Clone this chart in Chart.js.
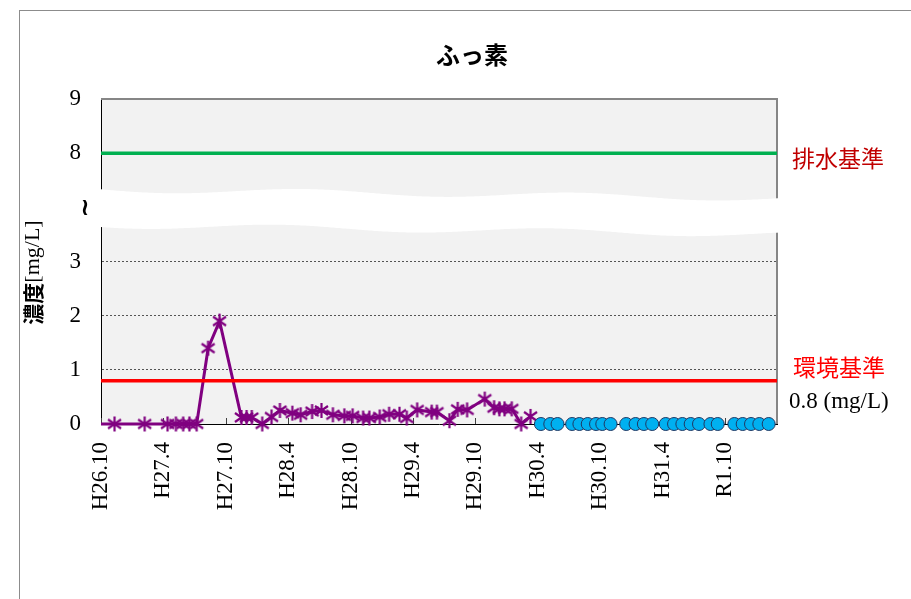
<!DOCTYPE html>
<html lang="ja">
<head>
<meta charset="utf-8">
<title>ふっ素</title>
<script src="https://cdn.jsdelivr.net/npm/chart.js@4.4.1/dist/chart.umd.min.js"></script>
<style>
	html, body { margin: 0; padding: 0; background: #fff; }
	#wrap { position: relative; width: 911px; height: 599px; overflow: hidden; }
	#frame { position: absolute; left: 19px; top: 10px; width: 1000px; height: 700px; border: 1px solid #8c8c8c; pointer-events: none; }
	canvas { display: block; }
</style>
</head>
<body>
<div id="wrap">
	<canvas id="chart" width="911" height="599"></canvas>
	<div id="frame"></div>
</div>
<script>
const chartTitle = 'ふっ素';
const yTitleMain = '濃度';
const yTitleUnit = '[mg/L]';

// x axis: months counted from H26.10
const xTickLabels = [ 'H26.10', 'H27.4', 'H27.10', 'H28.4', 'H28.10', 'H29.4', 'H29.10', 'H30.4', 'H30.10', 'H31.4', 'R1.10' ];
const xTickMonths = [ 0, 6, 12, 18, 24, 30, 36, 42, 48, 54, 60 ];
const xMaxMonth = 65;

// y axis is cut between 4 and 7
const yTickValues = [ 0, 1, 2, 3, 8, 9 ];
const breakShift = 3;

// measured values (purple, star marker)
const measuredMonths = [ 0, 1.3, 4.2, 6.4, 7.2, 7.9, 8.5, 9.2, 10.3, 11.4, 13.5, 14.0, 14.5, 15.5, 16.4, 17.2, 18.4, 19.2, 20.3, 21.2, 22.3, 23.4, 24.2, 25.2, 25.8, 26.8, 27.7, 28.7, 29.4, 30.4, 31.8, 32.3, 33.5, 34.3, 35.2, 36.9, 37.8, 38.3, 38.8, 39.5, 40.4, 41.3 ];
const measuredValues = [ 0, 0, 0, 0, 0, 0, 0, 0, 1.4, 1.9, 0.12, 0.12, 0.12, 0, 0.13, 0.25, 0.2, 0.17, 0.23, 0.25, 0.17, 0.15, 0.15, 0.11, 0.11, 0.13, 0.18, 0.18, 0.11, 0.26, 0.22, 0.22, 0.06, 0.27, 0.26, 0.46, 0.3, 0.28, 0.28, 0.28, 0, 0.14 ];

// later values (blue circles)
const laterMonths = [ 42.3, 43.2, 43.9, 45.3, 46.0, 46.8, 47.6, 48.2, 49.0, 50.5, 51.4, 52.2, 53.0, 54.3, 55.1, 55.9, 56.7, 57.5, 58.6, 59.3, 60.9, 61.7, 62.5, 63.3, 64.2 ];
const laterValues = [ 0, 0, 0, 0, 0, 0, 0, 0, 0, 0, 0, 0, 0, 0, 0, 0, 0, 0, 0, 0, 0, 0, 0, 0, 0 ];

const drainStandard = 8;
const envStandard = 0.8;

const toAxis = ( v ) => ( v > 4 ? v - breakShift : v );

function makeStar( color ) {
	const c = document.createElement( 'canvas' );
	c.width = 17;
	c.height = 17;
	const g = c.getContext( '2d' );
	g.strokeStyle = color;
	g.lineWidth = 2.2;
	g.beginPath();
	g.moveTo( 8.5, 1 );
	g.lineTo( 8.5, 16 );
	g.moveTo( 2, 4 );
	g.lineTo( 15, 13 );
	g.moveTo( 2, 13 );
	g.lineTo( 15, 4 );
	g.stroke();
	return c;
}

const serif = '"Liberation Serif", "Times New Roman", serif';
const gothic = '"Noto Sans CJK JP", sans-serif';

const plotDecor = {
	id: 'plotDecor',
	beforeDraw( chart ) {
		const { ctx, chartArea: a } = chart;
		ctx.save();
		ctx.fillStyle = '#f2f2f2';
		ctx.fillRect( a.left, a.top, a.right - a.left, a.bottom - a.top );
		ctx.restore();
	},
	beforeDatasetsDraw( chart ) {
		const { ctx, chartArea: a, scales: { x } } = chart;
		ctx.save();
		// top and right frame
		ctx.strokeStyle = '#868686';
		ctx.lineWidth = 2;
		ctx.beginPath();
		ctx.moveTo( a.left, a.top );
		ctx.lineTo( a.right, a.top );
		ctx.lineTo( a.right, a.bottom );
		ctx.stroke();
		// tick marks point inward
		ctx.strokeStyle = '#404040';
		ctx.lineWidth = 1;
		xTickMonths.forEach( ( m ) => {
			const px = Math.round( x.getPixelForValue( m ) ) + 0.5;
			ctx.beginPath();
			ctx.moveTo( px, a.bottom );
			ctx.lineTo( px, a.bottom - 6 );
			ctx.stroke();
		} );
		ctx.restore();
	},
	afterDraw( chart ) {
		const { ctx, chartArea: a, scales: { y } } = chart;
		const w = a.right - a.left;
		const cy = y.getPixelForValue( 4 );
		const edge = ( px, off, ph ) =>
			cy + off + ( 9 * ( px - a.left ) ) / w +
			3 * Math.sin( ( ( px - a.left ) / w ) * Math.PI * 5 + ph );

		ctx.save();
		// white wavy band where the axis is cut
		const x0 = a.left - 8;
		const x1 = a.right + 4;
		ctx.beginPath();
		for ( let px = x0; px <= x1; px += 2 ) {
			ctx.lineTo( px, edge( px, -18, 0 ) );
		}
		for ( let px = x1; px >= x0; px -= 2 ) {
			ctx.lineTo( px, edge( px, 18, 0.6 ) );
		}
		ctx.closePath();
		ctx.fillStyle = '#fff';
		ctx.fill();

		ctx.fillStyle = '#000';
		ctx.font = 'bold 24px "DejaVu Sans"';
		ctx.textAlign = 'center';
		ctx.textBaseline = 'middle';
		ctx.fillText( '≀', a.left - 16, cy + 1 );

		// title
		ctx.font = 'bold 24px ' + gothic;
		ctx.fillText( chartTitle, a.left + w / 2 + 33, 55 );

		// y axis title, rotated
		ctx.save();
		ctx.translate( 33, ( a.top + a.bottom ) / 2 + 11 );
		ctx.rotate( -Math.PI / 2 );
		const mainFont = 'bold 21px ' + gothic;
		const unitFont = '22px ' + serif;
		ctx.font = mainFont;
		const w1 = ctx.measureText( yTitleMain ).width;
		ctx.font = unitFont;
		const w2 = ctx.measureText( yTitleUnit ).width;
		ctx.textAlign = 'left';
		ctx.font = mainFont;
		ctx.fillText( yTitleMain, -( w1 + w2 ) / 2, 0 );
		ctx.font = unitFont;
		ctx.fillText( yTitleUnit, -( w1 + w2 ) / 2 + w1, 0 );
		ctx.restore();

		// standards labels
		ctx.textAlign = 'left';
		ctx.font = '23px ' + gothic;
		ctx.fillStyle = '#c00000';
		ctx.fillText( '排水基準', a.right + 15, y.getPixelForValue( toAxis( drainStandard ) ) + 5 );
		ctx.fillStyle = '#ff0000';
		ctx.fillText( '環境基準', a.right + 16, y.getPixelForValue( envStandard ) - 13 );
		ctx.fillStyle = '#000';
		ctx.font = '23px ' + serif;
		ctx.fillText( envStandard + ' (mg/L)', a.right + 12, y.getPixelForValue( envStandard ) + 21 );
		ctx.restore();
	},
};

new Chart( document.getElementById( 'chart' ), {
	type: 'line',
	data: {
		datasets: [
			{
				label: '環境基準',
				data: [ { x: 0, y: envStandard }, { x: xMaxMonth, y: envStandard } ],
				borderColor: '#ff0000',
				borderWidth: 3.5,
				pointRadius: 0,
				order: 0,
			},
			{
				label: '排水基準',
				data: [ { x: 0, y: toAxis( drainStandard ) }, { x: xMaxMonth, y: toAxis( drainStandard ) } ],
				borderColor: '#00b050',
				borderWidth: 3.5,
				pointRadius: 0,
				order: 0,
			},
			{
				label: '測定値',
				data: laterMonths.map( ( m, i ) => ( { x: m, y: laterValues[ i ] } ) ),
				showLine: false,
				pointStyle: 'circle',
				pointRadius: 6.5,
				backgroundColor: '#00b0f0',
				borderColor: '#1f3864',
				borderWidth: 1,
				clip: false,
				order: 1,
			},
			{
				label: '測定値',
				data: measuredMonths.map( ( m, i ) => ( { x: m, y: measuredValues[ i ] } ) ),
				borderColor: '#800080',
				borderWidth: 3,
				pointStyle: makeStar( '#800080' ),
				pointRadius: ( ctx ) => ( ctx.dataIndex === 0 ? 0 : 8 ),
				clip: false,
				order: 2,
			},
		],
	},
	options: {
		responsive: false,
		animation: false,
		layout: { padding: { top: 99, right: 134, bottom: 0, left: 19 } },
		plugins: {
			legend: { display: false },
			tooltip: { enabled: false },
		},
		scales: {
			x: {
				type: 'linear',
				min: 0,
				max: xMaxMonth,
				afterBuildTicks: ( s ) => {
					s.ticks = xTickMonths.map( ( v ) => ( { value: v } ) );
				},
				afterFit: ( s ) => {
					s.height = 175;
				},
				grid: { display: false },
				border: { display: true, color: '#000', width: 1 },
				ticks: {
					autoSkip: false,
					minRotation: 90,
					maxRotation: 90,
					padding: 10,
					color: '#000',
					font: { family: serif, size: 23 },
					callback: ( v ) => xTickLabels[ xTickMonths.indexOf( v ) ] ?? '',
				},
			},
			y: {
				min: 0,
				max: toAxis( 9 ),
				afterBuildTicks: ( s ) => {
					s.ticks = yTickValues.map( ( v ) => ( { value: toAxis( v ) } ) );
				},
				afterFit: ( s ) => {
					s.width = 82;
				},
				grid: {
					drawTicks: false,
					lineWidth: 1,
					color: ( ctx ) =>
						ctx.tick && [ 1, 2, 3 ].includes( ctx.tick.value ) ? '#555' : 'rgba(0,0,0,0)',
				},
				border: { display: true, color: '#000', width: 1, dash: [ 2, 2 ] },
				ticks: {
					padding: 20,
					color: '#000',
					font: { family: serif, size: 23 },
					callback: ( v ) => yTickValues.find( ( t ) => toAxis( t ) === v ),
				},
			},
		},
	},
	plugins: [ plotDecor ],
} );
</script>
</body>
</html>
